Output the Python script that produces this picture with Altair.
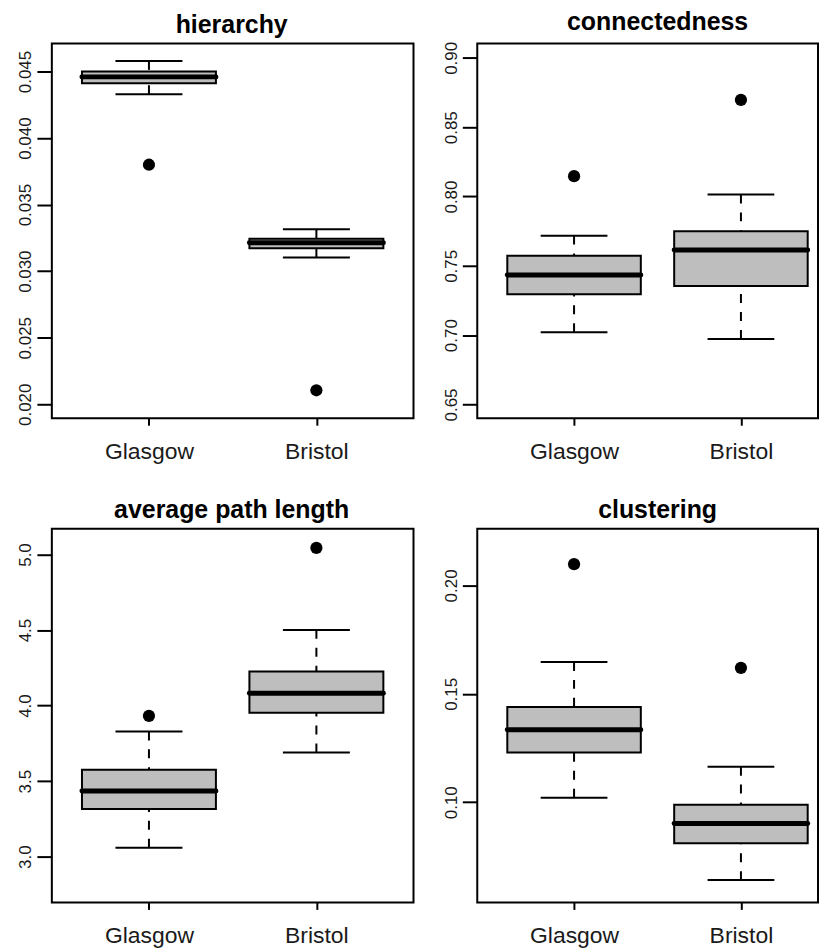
import altair as alt
import pandas as pd

cities = ["Glasgow", "Bristol"]
positions = [1, 2]

# hierarchy: lower whisker, Q1, median, Q3, upper whisker, outlier
hier_low = [0.0433, 0.03103]
hier_q1 = [0.04413, 0.03173]
hier_med = [0.0446, 0.03213]
hier_q3 = [0.0450, 0.03243]
hier_high = [0.0458, 0.03315]
hier_out = [0.0380, 0.02105]

conn_low = [0.7021, 0.6973]
conn_q1 = [0.7295, 0.7355]
conn_med = [0.7434, 0.7614]
conn_q3 = [0.7573, 0.7749]
conn_high = [0.7718, 0.8015]
conn_out = [0.8147, 0.8697]

path_low = [3.059, 3.690]
path_q1 = [3.316, 3.952]
path_med = [3.435, 4.081]
path_q3 = [3.576, 4.226]
path_high = [3.829, 4.501]
path_out = [3.932, 5.044]

clus_low = [0.1021, 0.0641]
clus_q1 = [0.1229, 0.0811]
clus_med = [0.1334, 0.0902]
clus_q3 = [0.1439, 0.0989]
clus_high = [0.1647, 0.1164]
clus_out = [0.2098, 0.1620]

hier_ticks = [0.020, 0.025, 0.030, 0.035, 0.040, 0.045]
conn_ticks = [0.65, 0.70, 0.75, 0.80, 0.85, 0.90]
path_ticks = [3.0, 3.5, 4.0, 4.5, 5.0]
clus_ticks = [0.10, 0.15, 0.20]

FONT = "Liberation Sans"
BOX_HALF = 0.4
CAP_HALF = 0.2


def panel(title, low, q1, med, q3, high, out, ydom, ticks, fmt, xmax, width, height, dx):
    df = pd.DataFrame({
        "city": cities, "pos": positions,
        "low": low, "q1": q1, "med": med, "q3": q3, "high": high, "out": out,
    })
    df["bl"] = df["pos"] - BOX_HALF
    df["br"] = df["pos"] + BOX_HALF
    df["cl"] = df["pos"] - CAP_HALF
    df["cr"] = df["pos"] + CAP_HALF

    xscale = alt.Scale(domain=[0.42, xmax], nice=False, zero=False)
    yscale = alt.Scale(domain=ydom, nice=False, zero=False)
    xaxis = alt.Axis(values=positions, title=None,
                     labelExpr="datum.value == 1 ? 'Glasgow' : 'Bristol'")
    yaxis = alt.Axis(values=ticks, format=fmt, title=None)

    def X(f):
        return alt.X(f + ":Q", scale=xscale, axis=xaxis)

    def Y(f):
        return alt.Y(f + ":Q", scale=yscale, axis=yaxis)

    base = alt.Chart(df)
    whisk_hi = base.mark_rule(color="black", strokeWidth=2, strokeDash=[9, 9]).encode(
        x=X("pos"), y=Y("high"), y2="q3")
    whisk_lo = base.mark_rule(color="black", strokeWidth=2, strokeDash=[9, 9]).encode(
        x=X("pos"), y=Y("low"), y2="q1")
    box = base.mark_rect(fill="#bebebe", stroke="black", strokeWidth=2).encode(
        x=X("bl"), x2="br", y=Y("q1"), y2="q3")
    median = base.mark_rule(color="black", strokeWidth=5, strokeCap="round").encode(
        x=X("bl"), x2="br", y=Y("med"))
    cap_hi = base.mark_rule(color="black", strokeWidth=2).encode(
        x=X("cl"), x2="cr", y=Y("high"))
    cap_lo = base.mark_rule(color="black", strokeWidth=2).encode(
        x=X("cl"), x2="cr", y=Y("low"))
    outl = base.mark_circle(color="black", opacity=1, size=150).encode(
        x=X("pos"), y=Y("out"))

    return alt.layer(whisk_hi, whisk_lo, box, median, cap_hi, cap_lo, outl).properties(
        width=width, height=height,
        title=alt.TitleParams(text=title, fontSize=25, fontWeight="bold", font=FONT,
                              color="black", anchor="middle", offset=-14,
                              baseline="alphabetic", dx=dx),
    )


p1 = panel("hierarchy", hier_low, hier_q1, hier_med, hier_q3, hier_high, hier_out,
           [0.01895, 0.0471], hier_ticks, ".3f", 2.58, 363, 376, -1)
p2 = panel("connectedness", conn_low, conn_q1, conn_med, conn_q3, conn_high, conn_out,
           [0.6401, 0.9103], conn_ticks, ".2f", 0.42 + 342 / 167.5, 342, 376, 10)
p3 = panel("average path length", path_low, path_q1, path_med, path_q3, path_high, path_out,
           [2.697, 5.17], path_ticks, ".1f", 2.58, 363, 375, -1)
p4 = panel("clustering", clus_low, clus_q1, clus_med, clus_q3, clus_high, clus_out,
           [0.0538, 0.2261], clus_ticks, ".2f", 0.42 + 342 / 167.5, 342, 375, 10)

top = alt.hconcat(p1, p2, spacing=19)
bottom = alt.hconcat(p3, p4, spacing=19)
chart = alt.vconcat(top, bottom, spacing=33).properties(
    padding={"left": 0, "top": -1, "right": 0, "bottom": 0}
).configure(font=FONT).configure_view(
    stroke="black", strokeWidth=2
).configure_axis(
    grid=False, domain=False, tickColor="black", tickWidth=2,
    labelColor="#1a1a1a", labelFont=FONT,
).configure_axisY(
    tickSize=15, labelFontSize=17, labelAngle=270, labelAlign="center",
    labelBaseline="bottom", labelPadding=2, minExtent=43, maxExtent=43,
).configure_axisX(
    tickSize=7, labelFontSize=23, labelPadding=15,
)

chart.save("out.html", embed_options={"renderer": "svg", "actions": False})
